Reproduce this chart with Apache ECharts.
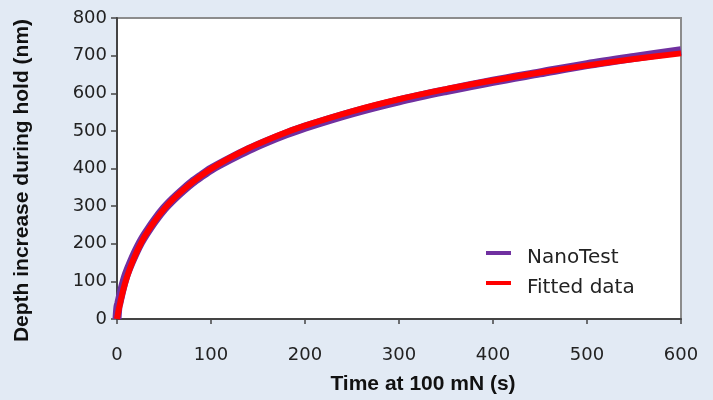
<!DOCTYPE html>
<html>
<head>
<meta charset="utf-8">
<script src="https://cdn.jsdelivr.net/npm/echarts@6/dist/echarts.min.js"></script>
<style>
  html, body { margin: 0; padding: 0; background: #e2eaf4; }
  #chart { width: 713px; height: 400px; }
</style>
</head>
<body>
<div id="chart"></div>
<script>
// hold time (s) and depth increase (nm)
const timeSec = [0, 1, 2, 4, 6, 8, 10, 15, 20, 25, 30, 40, 50, 60, 70, 80, 90, 100,
  120, 140, 160, 180, 200, 250, 300, 350, 400, 450, 500, 550, 600];
const nanoTestNm = [0, 32, 42, 64, 85, 103, 119, 150, 178, 203, 224, 261, 293, 319, 342, 363, 381, 398,
  425, 450, 472, 492, 510, 548, 580, 607, 632, 654, 676, 695, 713];
const fittedNm = [0, 14, 27, 50, 71, 90, 107, 143, 173, 199, 222, 260, 292, 319, 342, 363, 382, 399,
  428, 454, 476, 496, 514, 552, 584, 611, 634, 655, 674, 691, 706];
const seriesNames = ["NanoTest", "Fitted data"];

const chart = echarts.init(document.getElementById("chart"));

const labelFont = "'DejaVu Sans', sans-serif";
const titleFont = "'Liberation Sans', Arial, sans-serif";

// legend line sample drawn near the top of its box, so it sits a little above the text
const legendIcon = "path://M0,0h25v4h-25zM0,14h0.01v0.01h-0.01z";

chart.setOption({
  backgroundColor: "#e2eaf4",
  animation: false,
  grid: {
    left: 117, right: 32, top: 18, bottom: 80,
    show: true,
    backgroundColor: "#ffffff",
    borderColor: "#8c8c8c",
    borderWidth: 2
  },
  legend: {
    orient: "vertical",
    left: 481,
    top: 243,
    itemWidth: 25,
    itemHeight: 14,
    itemGap: 10,
    icon: legendIcon,
    textStyle: {
      fontFamily: labelFont,
      fontSize: 20,
      color: "#222",
      lineHeight: 20,
      padding: [0, 0, 0, 11]
    },
    data: seriesNames
  },
  xAxis: {
    type: "value",
    min: 0, max: 600, interval: 100,
    name: "Time at 100 mN (s)",
    nameLocation: "middle",
    nameGap: 55,
    nameTextStyle: {
      fontFamily: titleFont, fontWeight: "bold", fontSize: 21, color: "#111",
      padding: [0, 0, 0, 48]
    },
    axisLine: { lineStyle: { color: "#444", width: 2 } },
    axisTick: { show: true, inside: false, length: 5, lineStyle: { color: "#444", width: 1.5 } },
    axisLabel: { fontFamily: labelFont, fontSize: 18, color: "#222", margin: 27 },
    splitLine: { show: false }
  },
  yAxis: {
    type: "value",
    min: 0, max: 800, interval: 100,
    name: "Depth increase during hold (nm)",
    nameLocation: "middle",
    nameGap: 84,
    nameTextStyle: {
      fontFamily: titleFont, fontWeight: "bold", fontSize: 21, color: "#111",
      padding: [0, 24, 0, 0]
    },
    axisLine: { show: true, lineStyle: { color: "#444", width: 2 } },
    axisTick: { show: true, inside: false, length: 6, lineStyle: { color: "#444", width: 1.5 } },
    axisLabel: { fontFamily: labelFont, fontSize: 18, color: "#222", margin: 10 },
    splitLine: { show: false }
  },
  series: [
    {
      name: seriesNames[0],
      type: "line",
      data: timeSec.map((t, i) => [t, nanoTestNm[i]]),
      showSymbol: false,
      smooth: 0.3,
      lineStyle: { color: "#7030a0", width: 9 },
      itemStyle: { color: "#7030a0" },
      z: 2
    },
    {
      name: seriesNames[1],
      type: "line",
      data: timeSec.map((t, i) => [t, fittedNm[i]]),
      showSymbol: false,
      smooth: 0.3,
      lineStyle: { color: "#ff0000", width: 6 },
      itemStyle: { color: "#ff0000" },
      z: 3
    }
  ]
});

window.addEventListener("resize", () => {
  chart.resize();
});
</script>
</body>
</html>
